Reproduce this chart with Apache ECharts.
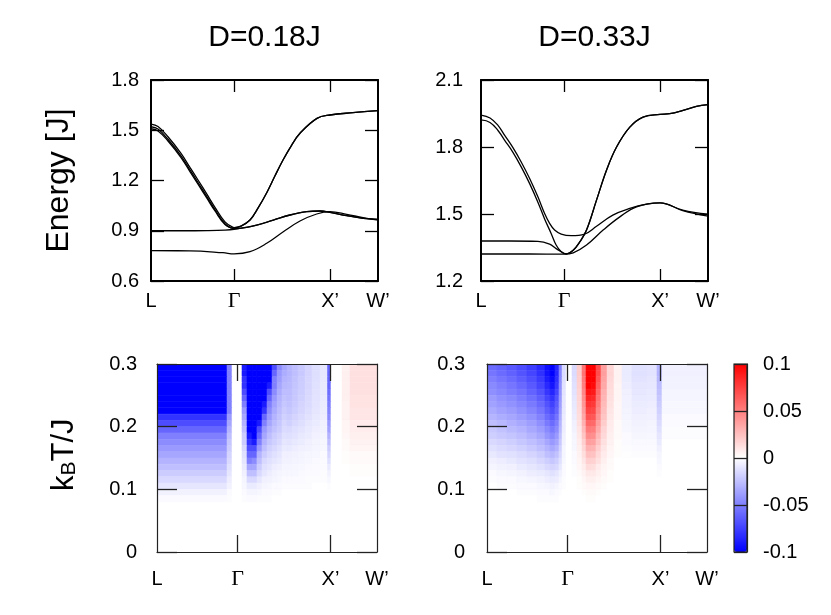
<!DOCTYPE html>
<html>
<head>
<meta charset="utf-8">
<script src="https://cdn.jsdelivr.net/npm/echarts@6/dist/echarts.min.js"></script>
<style>
  html, body { margin: 0; padding: 0; background: #fff; }
  #chart { width: 831px; height: 615px; }
</style>
</head>
<body>
<div id="chart"></div>
<script>
// k path L - Γ - X' - W'
const kTicks = [0, 0.866, 1.866, 2.366];
const kLabels = ['L', 'Γ', 'X’', 'W’'];

// D = 0.18J magnon bands, [k, E/J]
const band1D018 = [[0, 1.537], [0.073, 1.522], [0.177, 1.461], [0.313, 1.362], [0.406, 1.278], [0.490, 1.203], [0.584, 1.117], [0.667, 1.04], [0.771, 0.953], [0.855, 0.920], [0.866, 0.919], [0.938, 0.928], [1.032, 0.964], [1.115, 1.035], [1.209, 1.13], [1.290, 1.225], [1.376, 1.322], [1.465, 1.41], [1.553, 1.482], [1.730, 1.571], [1.866, 1.591], [2.105, 1.605], [2.366, 1.617]];
const band2D018 = [[0, 1.521], [0.073, 1.507], [0.177, 1.446], [0.313, 1.347], [0.406, 1.263], [0.490, 1.188], [0.584, 1.102], [0.667, 1.026], [0.771, 0.942], [0.855, 0.916], [0.866, 0.917], [0.938, 0.928], [1.032, 0.964], [1.115, 1.035], [1.209, 1.13], [1.290, 1.225], [1.376, 1.322], [1.465, 1.41], [1.553, 1.482], [1.730, 1.571], [1.866, 1.591], [2.105, 1.605], [2.366, 1.617]];
const band3D018 = [[0, 1.509], [0.073, 1.496], [0.177, 1.436], [0.313, 1.337], [0.406, 1.253], [0.490, 1.178], [0.584, 1.093], [0.667, 1.018], [0.771, 0.937], [0.855, 0.913], [0.866, 0.912], [1.102, 0.934], [1.275, 0.964], [1.449, 0.994], [1.623, 1.014], [1.761, 1.018], [1.866, 1.010], [2.040, 0.990], [2.213, 0.974], [2.366, 0.968]];
const band4D018 = [[0, 0.900], [0.313, 0.900], [0.584, 0.901], [0.771, 0.904], [0.866, 0.909], [1.102, 0.934], [1.275, 0.964], [1.449, 0.994], [1.623, 1.014], [1.761, 1.018], [1.866, 1.010], [2.040, 0.990], [2.213, 0.974], [2.366, 0.968]];
const band5D018 = [[0, 0.781], [0.406, 0.780], [0.750, 0.769], [0.866, 0.762], [1.032, 0.775], [1.206, 0.825], [1.379, 0.894], [1.553, 0.958], [1.727, 1.0], [1.866, 1.014], [2.040, 0.998], [2.210, 0.978], [2.366, 0.964]];

// D = 0.33J magnon bands, [k, E/J]
const band1D033 = [[0, 1.943], [0.094, 1.93], [0.177, 1.897], [0.247, 1.852], [0.333, 1.797], [0.419, 1.733], [0.507, 1.659], [0.593, 1.577], [0.663, 1.502], [0.715, 1.458], [0.767, 1.428], [0.836, 1.410], [0.940, 1.403], [1.079, 1.41], [1.204, 1.445], [1.374, 1.495], [1.551, 1.525], [1.725, 1.544], [1.866, 1.550], [2.103, 1.517], [2.366, 1.499]];
const band2D033 = [[0, 1.921], [0.094, 1.910], [0.177, 1.874], [0.247, 1.830], [0.333, 1.776], [0.419, 1.711], [0.507, 1.636], [0.593, 1.553], [0.663, 1.478], [0.731, 1.413], [0.783, 1.361], [0.836, 1.331], [0.887, 1.321], [0.961, 1.338], [1.031, 1.376], [1.100, 1.428], [1.204, 1.562], [1.308, 1.696], [1.413, 1.80], [1.551, 1.889], [1.689, 1.934], [1.866, 1.946], [1.967, 1.949], [2.106, 1.964], [2.245, 1.982], [2.366, 1.990]];
const band3D033 = [[0, 1.379], [0.300, 1.379], [0.593, 1.377], [0.715, 1.365], [0.783, 1.345], [0.836, 1.331], [0.887, 1.322], [0.961, 1.338], [1.031, 1.376], [1.100, 1.428], [1.204, 1.562], [1.308, 1.696], [1.413, 1.80], [1.551, 1.889], [1.689, 1.934], [1.866, 1.946], [1.967, 1.949], [2.106, 1.964], [2.245, 1.982], [2.366, 1.990]];
const band4D033 = [[0, 1.321], [0.500, 1.321], [0.866, 1.320], [0.961, 1.326], [1.100, 1.361], [1.273, 1.428], [1.447, 1.487], [1.621, 1.532], [1.866, 1.550], [2.103, 1.515], [2.366, 1.490]];

// temperature rows (kBT/J), top edges downward
const tEdges = [0.30, 0.29, 0.28, 0.27, 0.26, 0.25, 0.24, 0.23, 0.22, 0.21, 0.20, 0.19, 0.18, 0.17, 0.16, 0.15, 0.14, 0.13, 0.12, 0.11, 0.10, 0.09, 0.08];

// column edges along k
const kEdgesD018 = [0, 0.753, 0.807, 0.914, 0.968, 1.022, 1.075, 1.129, 1.183, 1.237, 1.291, 1.344, 1.398, 1.452, 1.516, 1.592, 1.667, 1.753, 1.834, 1.871, 1.990, 2.076, 2.366];
const kEdgesD033 = [0, 0.108, 0.215, 0.323, 0.430, 0.538, 0.624, 0.678, 0.731, 0.774, 0.807, 0.850, 0.914, 0.968, 1.022, 1.065, 1.119, 1.172, 1.226, 1.291, 1.366, 1.452, 1.559, 1.721, 1.828, 1.882, 2.366];

// cell values in units of 0.01, one row per temperature band
const mapD018 = [
  [-10, -5, 0, -9, -10, -10, -10, -10, -10, -7, -4.5, -3.5, -2.9, -2.5, -2.1, -1.7, -1.3, -1, -6, 0, 0.6, 1.2],
  [-10, -5, 0, -9, -10, -10, -10, -10, -10, -6, -4, -3.2, -2.9, -2.5, -2.1, -1.7, -1.3, -1, -6, 0, 0.6, 1.2],
  [-10, -5, 0, -8, -10, -10, -10, -10, -10, -5, -3.8, -3, -2.8, -2.4, -2, -1.6, -1.25, -0.95, -6, 0, 0.6, 1.2],
  [-10, -5, 0, -8, -10, -10, -10, -10, -9, -5, -3.5, -2.8, -2.7, -2.3, -1.95, -1.6, -1.2, -0.9, -6, 0, 0.6, 1.2],
  [-10, -5, 0, -7, -10, -10, -10, -10, -7, -4.5, -3.2, -2.6, -2.6, -2.2, -1.9, -1.5, -1.15, -0.9, -5.7, 0, 0.6, 1.2],
  [-10, -5, 0, -6, -10, -10, -10, -10, -6, -4, -3, -2.4, -2.5, -2.15, -1.8, -1.45, -1.1, -0.85, -5.4, 0, 0.6, 1.1],
  [-10, -5, 0, -5, -10, -10, -10, -9, -5, -3.6, -2.8, -2.2, -2.4, -2.05, -1.7, -1.4, -1.05, -0.8, -5.1, 0, 0.5, 1.1],
  [-10, -5, 0, -4, -10, -10, -10, -8, -4.5, -3.3, -2.6, -2, -2.2, -1.9, -1.6, -1.3, -1, -0.75, -4.8, 0, 0.5, 1],
  [-8, -4, 0, -3.5, -10, -10, -10, -6, -4, -3, -2.4, -1.8, -2, -1.7, -1.4, -1.15, -0.9, -0.7, -4.5, 0, 0.5, 1],
  [-7, -3.5, 0, -3, -10, -10, -9, -5, -3.5, -2.7, -2.2, -1.6, -1.8, -1.5, -1.3, -1, -0.8, -0.6, -4, 0, 0.4, 0.8],
  [-6, -3, 0, -2.5, -10, -10, -7, -4, -3, -2.4, -2, -1.4, -1.45, -1.25, -1.05, -0.85, -0.65, -0.5, -3.6, 0, 0.4, 0.7],
  [-5, -2.5, 0, -2, -9, -10, -6, -3.5, -2.6, -2, -1.7, -1.2, -1.25, -1.1, -0.9, -0.75, -0.55, -0.45, -3, 0, 0.3, 0.6],
  [-4.5, -2.2, 0, -2, -8, -9, -5, -3, -2.2, -1.8, -1.5, -1, -1.05, -0.9, -0.75, -0.6, -0.45, -0.35, -2.5, 0, 0.2, 0.5],
  [-4, -2, 0, -1.5, -7, -7, -4, -2.5, -1.8, -1.5, -1.2, -0.8, -0.85, -0.7, -0.6, -0.5, -0.4, -0.3, -2, 0, 0.2, 0.4],
  [-3.5, -1.7, 0, -1.2, -6, -6, -3, -2, -1.5, -1.2, -1, -0.6, -0.6, -0.5, -0.45, -0.35, -0.3, -0.2, -1.6, 0, 0.1, 0.2],
  [-3, -1.5, 0, -1, -5, -4.5, -2.5, -1.5, -1.2, -1, -0.8, -0.5, -0.5, -0.45, -0.4, -0.3, -0.25, -0.2, -1.2, 0, 0.1, 0.2],
  [-2.5, -1.2, 0, -0.8, -3.5, -3.5, -2, -1.2, -1, -0.7, -0.6, -0.4, -0.4, -0.35, -0.3, -0.25, -0.2, -0.15, -0.8, 0, 0, 0.1],
  [-2, -1, 0, -0.6, -2.5, -2.5, -1.5, -1, -0.7, -0.5, -0.4, -0.3, -0.3, -0.3, -0.25, -0.2, -0.15, -0.1, -0.5, 0, 0, 0.1],
  [-1.5, -0.7, 0, -0.4, -1.5, -1.5, -1, -0.6, -0.5, -0.4, -0.3, -0.2, -0.2, -0.2, -0.15, -0.1, -0.1, -0.1, -0.3, 0, 0, 0],
  [-1, -0.5, 0, -0.3, -0.8, -0.8, -0.6, -0.4, -0.3, -0.2, -0.2, -0.1, -0.1, -0.1, -0.1, -0.1, 0, 0, -0.1, 0, 0, 0],
  [-0.5, -0.2, 0, -0.2, -0.4, -0.4, -0.3, -0.2, -0.2, -0.1, -0.1, 0, 0, 0, 0, 0, 0, 0, 0, 0, 0, 0],
  [-0.2, -0.1, 0, -0.1, -0.2, -0.2, -0.1, -0.1, -0.1, 0, 0, 0, 0, 0, 0, 0, 0, 0, 0, 0, 0, 0]
];
const mapD033 = [
  [-5.8, -6.1, -6.5, -7, -7.6, -8.4, -9.5, -10, -8.5, -5, -1.5, 0, -1.5, 2, 5.5, 10, 10, 7, 3.8, 1.6, 0.5, -0.8, -1.2, -1.1, -3, -0.6],
  [-5.4, -5.8, -6.2, -6.7, -7.3, -8.1, -9.3, -10, -8.4, -4.8, -1.4, 0, -1.4, 2, 5.5, 10, 10, 7, 3.8, 1.6, 0.5, -0.8, -1.2, -1.1, -3, -0.6],
  [-5, -5.4, -5.8, -6.3, -6.9, -7.7, -8.9, -9.6, -8.1, -4.6, -1.3, 0, -1.3, 1.9, 5.2, 10, 10, 6.6, 3.6, 1.5, 0.5, -0.75, -1.1, -1, -2.8, -0.5],
  [-4.6, -5, -5.4, -5.9, -6.5, -7.3, -8.4, -9.2, -7.8, -4.4, -1.2, 0, -1.2, 1.8, 5, 10, 9.6, 6.2, 3.4, 1.4, 0.4, -0.7, -1, -0.95, -2.6, -0.5],
  [-4.4, -4.7, -5.1, -5.5, -6.1, -6.8, -7.9, -8.6, -7.3, -4.2, -1.1, 0, -1.1, 1.7, 4.7, 9.2, 9, 5.8, 3.1, 1.3, 0.4, -0.6, -0.95, -0.85, -2.4, -0.4],
  [-3.9, -4.3, -4.6, -5.1, -5.6, -6.3, -7.3, -8, -6.8, -4, -1, 0, -1, 1.6, 4.4, 8.6, 8.4, 5.4, 2.9, 1.2, 0.4, -0.55, -0.85, -0.8, -2.2, -0.4],
  [-3.7, -4, -4.3, -4.7, -5.2, -5.9, -6.8, -7.5, -6.4, -3.8, -1, 0, -0.9, 1.5, 4.1, 8, 7.8, 5, 2.7, 1.1, 0.3, -0.5, -0.75, -0.7, -2, -0.3],
  [-3.3, -3.6, -3.9, -4.3, -4.8, -5.4, -6.3, -7, -6, -3.5, -0.9, 0, -0.8, 1.4, 3.8, 7.4, 7.2, 4.6, 2.5, 1, 0.3, -0.45, -0.7, -0.6, -1.8, -0.3],
  [-2.9, -3.2, -3.5, -3.9, -4.3, -4.9, -5.8, -6.4, -5.5, -3.2, -0.8, 0, -0.7, 1.3, 3.5, 6.8, 6.6, 4.2, 2.3, 0.9, 0.3, -0.4, -0.6, -0.55, -1.6, -0.2],
  [-2.5, -2.8, -3.1, -3.4, -3.8, -4.4, -5.2, -5.8, -5, -3, -0.7, 0, -0.6, 1.2, 3.1, 6, 5.9, 3.8, 2, 0.8, 0.2, -0.35, -0.5, -0.45, -1.4, -0.2],
  [-2.1, -2.4, -2.7, -3, -3.4, -3.9, -4.6, -5.2, -4.5, -2.7, -0.7, 0, -0.5, 1, 2.7, 5.2, 5.1, 3.3, 1.7, 0.7, 0.2, -0.3, -0.45, -0.4, -1.2, -0.1],
  [-1.9, -2.1, -2.3, -2.6, -3, -3.4, -4.1, -4.6, -4, -2.4, -0.6, 0, -0.4, 0.9, 2.3, 4.5, 4.4, 2.8, 1.5, 0.6, 0.2, -0.2, -0.35, -0.3, -1, -0.1],
  [-1.5, -1.7, -1.9, -2.2, -2.5, -2.9, -3.5, -4, -3.5, -2.1, -0.5, 0, -0.3, 0.7, 1.9, 3.8, 3.7, 2.4, 1.2, 0.5, 0.1, -0.15, -0.25, -0.25, -0.8, 0],
  [-1.2, -1.4, -1.6, -1.8, -2.1, -2.5, -3, -3.4, -3, -1.8, -0.4, 0, -0.3, 0.6, 1.6, 3.1, 3, 1.9, 1, 0.4, 0.1, -0.1, -0.15, -0.15, -0.6, 0],
  [-0.9, -1.1, -1.2, -1.4, -1.7, -2, -2.5, -2.8, -2.4, -1.5, -0.4, 0, -0.2, 0.5, 1.3, 2.5, 2.4, 1.5, 0.8, 0.3, 0.1, -0.05, -0.1, -0.1, -0.4, 0],
  [-0.6, -0.7, -0.9, -1.1, -1.3, -1.6, -1.9, -2.2, -1.9, -1.2, -0.3, 0, -0.2, 0.4, 1, 1.9, 1.8, 1.2, 0.6, 0.2, 0, 0, 0, 0, -0.3, 0],
  [-0.4, -0.5, -0.6, -0.8, -1, -1.2, -1.5, -1.7, -1.5, -0.9, -0.2, 0, -0.1, 0.3, 0.7, 1.4, 1.3, 0.8, 0.4, 0.2, 0, 0, 0, 0, -0.2, 0],
  [-0.2, -0.3, -0.4, -0.5, -0.7, -0.8, -1, -1.2, -1, -0.6, -0.2, 0, -0.1, 0.2, 0.5, 0.9, 0.9, 0.6, 0.3, 0.1, 0, 0, 0, 0, -0.1, 0],
  [-0.1, -0.2, -0.2, -0.3, -0.4, -0.5, -0.7, -0.8, -0.7, -0.4, -0.1, 0, 0, 0.1, 0.3, 0.6, 0.6, 0.4, 0.2, 0.1, 0, 0, 0, 0, 0, 0],
  [0, -0.1, -0.1, -0.2, -0.2, -0.3, -0.4, -0.5, -0.4, -0.2, -0.1, 0, 0, 0.1, 0.2, 0.3, 0.3, 0.2, 0.1, 0, 0, 0, 0, 0, 0, 0],
  [0, 0, 0, -0.1, -0.1, -0.2, -0.2, -0.3, -0.2, -0.1, 0, 0, 0, 0, 0.1, 0.2, 0.2, 0.1, 0, 0, 0, 0, 0, 0, 0, 0],
  [0, 0, 0, 0, 0, -0.1, -0.1, -0.1, -0.1, 0, 0, 0, 0, 0, 0, 0.1, 0.1, 0, 0, 0, 0, 0, 0, 0, 0, 0]
];

const FONT = 'Liberation Sans';
const chart = echarts.init(document.getElementById('chart'));

function kAxis(grid, pos, tickLen, lineW, color, margin, z) {
  return {
    type: 'value', gridIndex: grid, position: pos, min: kTicks[0], max: kTicks[3], z: z,
    axisLine: { onZero: false, lineStyle: { color: color, width: lineW } },
    axisTick: { inside: true, length: tickLen, customValues: [kTicks[1], kTicks[2]], lineStyle: { color: color, width: 1.3 } },
    axisLabel: pos === 'bottom' ? {
      customValues: kTicks, margin: margin, color: '#000', fontFamily: FONT, fontSize: 20, lineHeight: 20,
      formatter: function (v) {
        const i = kTicks.findIndex(function (t) { return Math.abs(t - v) < 1e-6; });
        return i === 1 ? '{g|' + kLabels[i] + '}' : kLabels[i];
      },
      rich: { g: { fontFamily: 'Liberation Serif', fontSize: 22, color: '#000' } }
    } : { show: false },
    splitLine: { show: false }
  };
}

function vAxis(grid, pos, min, max, interval, tickLen, lineW, color, margin, z) {
  return {
    type: 'value', gridIndex: grid, position: pos, min: min, max: max, interval: interval, z: z,
    axisLine: { onZero: false, lineStyle: { color: color, width: lineW } },
    axisTick: { inside: true, length: tickLen, lineStyle: { color: color, width: 1.3 } },
    axisLabel: pos === 'left' ? { margin: margin, color: '#000', fontFamily: FONT, fontSize: 20 } : { show: false },
    splitLine: { show: false }
  };
}

function bandSeries(data, grid) {
  return {
    type: 'line', xAxisIndex: grid * 2, yAxisIndex: grid * 2, data: data,
    showSymbol: false, smooth: 0.4, clip: true, silent: true,
    lineStyle: { color: '#000', width: 1.3 }
  };
}

function cells(kEdges, rows) {
  const out = [];
  rows.forEach(function (row, r) {
    row.forEach(function (v, c) {
      out.push([kEdges[c], kEdges[c + 1], tEdges[r + 1], tEdges[r], v * 0.01]);
    });
  });
  return out;
}

function renderCell(params, api) {
  const a = api.coord([api.value(0), api.value(3)]);
  const b = api.coord([api.value(1), api.value(2)]);
  const color = api.visual('color');
  return {
    type: 'rect',
    shape: { x: a[0], y: a[1], width: b[0] - a[0], height: b[1] - a[1] },
    style: { fill: color, stroke: color, lineWidth: 0.6 }
  };
}

function mapSeries(kEdges, rows, grid) {
  return {
    type: 'custom', xAxisIndex: grid * 2, yAxisIndex: grid * 2,
    renderItem: renderCell, data: cells(kEdges, rows),
    encode: { x: [0, 1], y: [2, 3] }, clip: true, silent: true
  };
}

const option = {
  animation: false,
  backgroundColor: '#fff',
  title: [
    { text: 'D=0.18J', left: 264.5, top: 23, padding: 0, textAlign: 'center',
      textStyle: { fontFamily: FONT, fontSize: 30, fontWeight: 'normal', color: '#000' } },
    { text: 'D=0.33J', left: 594.5, top: 23, padding: 0, textAlign: 'center',
      textStyle: { fontFamily: FONT, fontSize: 30, fontWeight: 'normal', color: '#000' } }
  ],
  grid: [
    { left: 151, top: 80, width: 227, height: 201 },
    { left: 481, top: 80, width: 227, height: 201 },
    { left: 157, top: 364, width: 220, height: 188 },
    { left: 487, top: 364, width: 220, height: 188 },
    { left: 734, top: 364, width: 13, height: 188, show: true, borderColor: '#222', borderWidth: 1.2, backgroundColor: 'transparent', z: 10 }
  ],
  xAxis: [
    kAxis(0, 'bottom', 12, 2, '#000', 10, 0), kAxis(0, 'top', 12, 2, '#000', 10, 0),
    kAxis(1, 'bottom', 12, 2, '#000', 10, 0), kAxis(1, 'top', 12, 2, '#000', 10, 0),
    kAxis(2, 'bottom', 17, 1.2, '#222', 17, 5), kAxis(2, 'top', 17, 1.2, '#222', 17, 5),
    kAxis(3, 'bottom', 17, 1.2, '#222', 17, 5), kAxis(3, 'top', 17, 1.2, '#222', 17, 5),
    { type: 'value', gridIndex: 4, min: 0, max: 1, show: false }
  ],
  yAxis: [
    vAxis(0, 'left', 0.6, 1.8, 0.3, 13, 2, '#000', 12, 0), vAxis(0, 'right', 0.6, 1.8, 0.3, 13, 2, '#000', 12, 0),
    vAxis(1, 'left', 1.2, 2.1, 0.3, 13, 2, '#000', 18, 0), vAxis(1, 'right', 1.2, 2.1, 0.3, 13, 2, '#000', 18, 0),
    vAxis(2, 'left', 0, 0.3, 0.1, 20, 1.2, '#222', 20, 5), vAxis(2, 'right', 0, 0.3, 0.1, 20, 1.2, '#222', 20, 5),
    vAxis(3, 'left', 0, 0.3, 0.1, 20, 1.2, '#222', 22, 5), vAxis(3, 'right', 0, 0.3, 0.1, 20, 1.2, '#222', 22, 5),
    {
      type: 'value', gridIndex: 4, position: 'right', min: -0.1, max: 0.1, interval: 0.05, z: 10,
      axisLine: { onZero: false, lineStyle: { color: '#222', width: 1.2 } },
      axisTick: { inside: true, length: 13, lineStyle: { color: '#222', width: 1.3 } },
      axisLabel: { margin: 16, color: '#000', fontFamily: FONT, fontSize: 20 },
      splitLine: { show: false }
    }
  ],
  visualMap: {
    type: 'continuous', seriesIndex: [9, 10], dimension: 4, min: -0.1, max: 0.1,
    calculable: false, orient: 'vertical', left: 734, top: 364, itemWidth: 13, itemHeight: 188,
    padding: 0, hoverLink: false,
    inRange: { color: ['#0000ff', '#ffffff', '#ff0000'] }
  },
  graphic: [
    { type: 'text', x: 59, y: 180.5, rotation: Math.PI / 2,
      style: { text: 'Energy [J]', fontFamily: FONT, fontSize: 32, fill: '#000', align: 'center', verticalAlign: 'middle', textAlign: 'center', textVerticalAlign: 'middle' } },
    { type: 'group', x: 64, y: 455, rotation: Math.PI / 2, children: [
      { type: 'text', x: -36, y: 0, style: { text: 'k', fontFamily: FONT, fontSize: 31, fill: '#000', align: 'left', verticalAlign: 'middle', textAlign: 'left', textVerticalAlign: 'middle' } },
      { type: 'text', x: -20.5, y: 5, style: { text: 'B', fontFamily: FONT, fontSize: 21, fill: '#000', align: 'left', verticalAlign: 'middle', textAlign: 'left', textVerticalAlign: 'middle' } },
      { type: 'text', x: -6.5, y: 0, style: { text: 'T/J', fontFamily: FONT, fontSize: 31, fill: '#000', align: 'left', verticalAlign: 'middle', textAlign: 'left', textVerticalAlign: 'middle' } }
    ] }
  ],
  series: [
    bandSeries(band1D018, 0), bandSeries(band2D018, 0), bandSeries(band3D018, 0), bandSeries(band4D018, 0), bandSeries(band5D018, 0),
    bandSeries(band1D033, 1), bandSeries(band2D033, 1), bandSeries(band3D033, 1), bandSeries(band4D033, 1),
    mapSeries(kEdgesD018, mapD018, 2),
    mapSeries(kEdgesD033, mapD033, 3)
  ]
};

chart.setOption(option);
</script>
</body>
</html>
